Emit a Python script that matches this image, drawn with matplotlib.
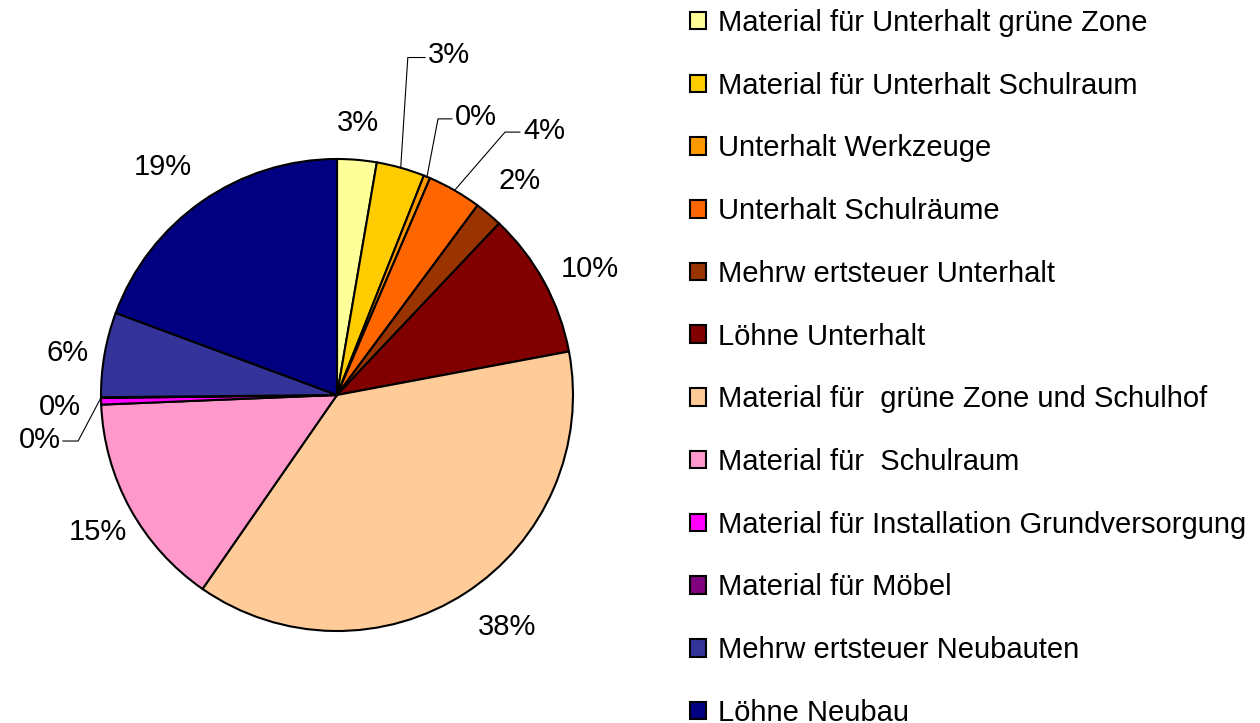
#!/usr/bin/env python3
"""
Kostenverteilung Unterhalt / Neubau als Kuchendiagramm
"""

import numpy as np
import matplotlib
matplotlib.use("Agg")
import matplotlib.pyplot as plt

plt.rcParams['font.family'] = ['Liberation Sans', 'DejaVu Sans']

# datos
posten = [
    'Material für Unterhalt grüne Zone',
    'Material für Unterhalt Schulraum',
    'Unterhalt Werkzeuge',
    'Unterhalt Schulräume',
    'Mehrw ertsteuer Unterhalt',
    'Löhne Unterhalt',
    'Material für  grüne Zone und Schulhof',
    'Material für  Schulraum',
    'Material für Installation Grundversorgung',
    'Material für Möbel',
    'Mehrw ertsteuer Neubauten',
    'Löhne Neubau',
]
anteil = [2.7, 3.3, 0.45, 3.7, 1.9, 10.0, 37.6, 14.7, 0.45, 0.05, 5.8, 19.35]
farben = ['#FFFF99', '#FFCC00', '#FF9900', '#FF6600', '#993300', '#800000',
          '#FFCC99', '#FF99CC', '#FF00FF', '#800080', '#333399', '#000080']

# posicion de etiquetas (en radios), sin linea guia
pos_etiqueta = {
    0: (0.089, 1.153),
    4: (0.775, 0.907),
    5: (1.072, 0.534),
    6: (0.720, -0.983),
    7: (-1.013, -0.580),
    8: (-1.174, -0.051),
    10: (-1.140, 0.178),
    11: (-0.737, 0.966),
}
# etiquetas con línea guía: indice -> (texto xy, codo xy, fin xy, alineacion)
guias = {
    1: ((0.386, 1.44), (0.30, 1.43), (0.373, 1.43), 'left'),
    2: ((0.50, 1.18), (0.428, 1.17), (0.487, 1.17), 'left'),
    3: ((0.79, 1.12), (0.712, 1.114), (0.775, 1.114), 'left'),
    9: ((-1.17, -0.19), (-1.097, -0.195), (-1.161, -0.195), 'right'),
}

W, H = 1260, 723
fig = plt.figure(figsize=(W / 100, H / 100), dpi=100)
cx, cy, r = 337, 395, 236
ax = fig.add_axes([(cx - r) / W, (H - cy - r) / H, 2 * r / W, 2 * r / H])

wedges, _ = ax.pie(anteil, colors=farben, startangle=90, counterclock=False,
                   wedgeprops=dict(edgecolor='black', linewidth=1.5))
ax.set_xlim(-1, 1)
ax.set_ylim(-1, 1)
ax.axis('off')

total = sum(anteil)
fs = 21
for i, w in enumerate(wedges):
    txt = f'{anteil[i] / total * 100:.0f}%'
    ang = np.deg2rad((w.theta1 + w.theta2) / 2)
    if i in guias:
        (tx, ty), (ex, ey), (fx, fy), ha = guias[i]
        bx, by = np.cos(ang), np.sin(ang)
        ax.plot([bx, ex, fx], [by, ey, fy], color='black', lw=0.8, clip_on=False)
        ax.text(tx, ty, txt, ha=ha, va='center', fontsize=fs)
    else:
        tx, ty = pos_etiqueta[i]
        ax.text(tx, ty, txt, ha='center', va='center', fontsize=fs)

leg = fig.legend(wedges, posten, loc='upper left', bbox_to_anchor=(690 / W, 1 - 9 / H),
                 frameon=False, fontsize=fs, handlelength=0.55, handleheight=0.55,
                 handletextpad=0.41, labelspacing=1.19, borderpad=0, borderaxespad=0)

fig.savefig('out.png', dpi=100)
